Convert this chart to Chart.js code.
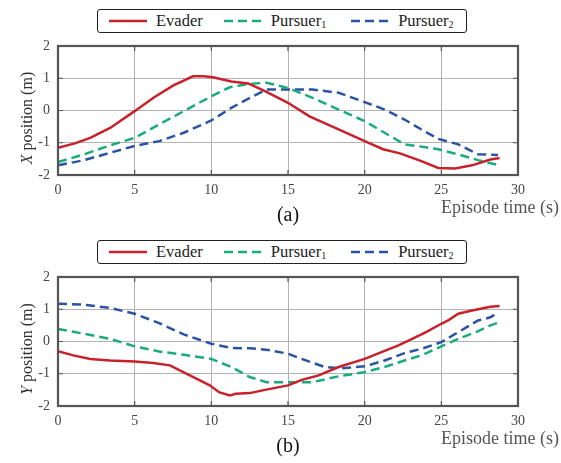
<!DOCTYPE html>
<html>
<head>
<meta charset="utf-8">
<script src="https://cdn.jsdelivr.net/npm/chart.js@4.4.1/dist/chart.umd.min.js"></script>
<style>
  body { margin: 0; background: #fff; }
  .panel { position: absolute; left: 0; width: 561px; height: 231px; }
  .legend {
    position: absolute; left: 97px; top: 9px; width: 370px; height: 24px; box-sizing: border-box;
    border: 1.6px solid #222; border-radius: 3px; background: #fff;
    display: flex; align-items: center; padding-left: 11px;
    font-family: "Liberation Serif", "Times New Roman", serif; font-size: 16.5px; color: #222;
  }
  .legend svg { margin-right: 9px; }
  .legend span.s0 { margin-right: 21px; }
  .legend span.s1 { margin-right: 25px; }
  .legend sub { font-size: 10px; vertical-align: -2px; }
</style>
</head>
<body>
<div class="panel" style="top:0"><canvas id="chartX"></canvas><div class="legend" id="legX"></div></div>
<div class="panel" style="top:231px"><canvas id="chartY"></canvas><div class="legend" id="legY"></div></div>
<script>
// series names and colours
var names = ['Evader', 'Pursuer<sub>1</sub>', 'Pursuer<sub>2</sub>'];
var colors = ['#c9212b', '#1aab7c', '#2a53a7'];

var xTicks = [0, 5, 10, 15, 20, 25, 30];
var yTicks = [-2, -1, 0, 1, 2];

// (a) X position
var xEvaderT = [0, 1.1, 2.1, 3.4, 5.0, 6.2, 7.5, 8.8, 9.5, 10.1, 11.3, 12.4, 13.5, 15.0, 16.4, 17.9, 20.0, 21.2, 22.3, 23.7, 24.8, 25.9, 27.0, 28.2, 28.8];
var xEvaderV = [-1.16, -1.02, -0.85, -0.54, -0.02, 0.39, 0.77, 1.06, 1.06, 1.03, 0.90, 0.84, 0.60, 0.24, -0.18, -0.50, -0.95, -1.20, -1.33, -1.57, -1.78, -1.80, -1.70, -1.52, -1.47];
var xP1T = [0, 1.7, 3.4, 5.0, 6.6, 8.2, 10.0, 11.2, 12.5, 13.6, 15.0, 16.6, 18.3, 20.0, 21.3, 22.6, 23.7, 24.8, 26.1, 27.4, 28.6];
var xP1V = [-1.60, -1.36, -1.08, -0.85, -0.43, -0.02, 0.44, 0.72, 0.83, 0.86, 0.70, 0.39, 0.03, -0.33, -0.69, -1.05, -1.12, -1.20, -1.36, -1.54, -1.68];
var xP2T = [0, 1.7, 3.4, 5.0, 6.6, 8.2, 10.0, 11.3, 12.7, 13.6, 15.0, 16.6, 18.3, 20.0, 21.3, 22.6, 23.7, 24.8, 26.1, 27.4, 28.7];
var xP2V = [-1.70, -1.54, -1.31, -1.10, -0.95, -0.69, -0.31, 0.08, 0.44, 0.65, 0.65, 0.65, 0.55, 0.26, 0.03, -0.28, -0.59, -0.88, -1.05, -1.36, -1.38];

// (b) Y position
var yEvaderT = [0, 1.0, 2.1, 3.4, 5.0, 6.2, 7.3, 8.6, 9.9, 10.5, 11.2, 11.6, 12.5, 13.5, 15.0, 15.9, 17.0, 18.3, 20.0, 21.1, 22.2, 23.1, 24.0, 25.0, 25.5, 26.1, 27.0, 28.2, 28.8];
var yEvaderV = [-0.30, -0.43, -0.54, -0.59, -0.62, -0.67, -0.74, -1.05, -1.36, -1.57, -1.67, -1.62, -1.60, -1.50, -1.36, -1.19, -1.05, -0.79, -0.54, -0.33, -0.12, 0.08, 0.29, 0.55, 0.67, 0.86, 0.96, 1.08, 1.10];
var yP1T = [0, 1.7, 3.4, 5.0, 6.6, 8.2, 10.0, 11.3, 12.5, 13.6, 15.0, 16.6, 18.3, 20.0, 21.3, 22.6, 23.7, 25.0, 26.1, 27.4, 28.2, 28.7];
var yP1V = [0.39, 0.24, 0.08, -0.15, -0.31, -0.41, -0.54, -0.79, -1.10, -1.26, -1.26, -1.26, -1.08, -0.95, -0.79, -0.59, -0.43, -0.15, 0.08, 0.32, 0.50, 0.58];
var yP2T = [0, 1.7, 3.4, 5.0, 6.6, 8.2, 10.0, 11.3, 12.5, 13.7, 15.0, 16.3, 17.4, 18.5, 20.0, 21.3, 22.6, 23.7, 25.0, 26.1, 27.4, 28.2, 28.7];
var yP2V = [1.17, 1.14, 1.04, 0.86, 0.57, 0.22, -0.07, -0.20, -0.21, -0.26, -0.38, -0.61, -0.79, -0.83, -0.77, -0.59, -0.36, -0.23, -0.02, 0.29, 0.65, 0.75, 0.90];

var serif = '"Liberation Serif", "Times New Roman", serif';

function pts(t, v) {
  return t.map(function (x, i) { return {x: x, y: v[i]}; });
}

// frame, inward ticks and the axis texts (italic X / Y in the y label)
var frame = {
  id: 'frame',
  afterDraw: function (chart, args, opts) {
    var ctx = chart.ctx, a = chart.chartArea, sx = chart.scales.x, sy = chart.scales.y;
    ctx.save();
    ctx.strokeStyle = '#555';
    ctx.lineWidth = 1.2;
    ctx.beginPath();
    xTicks.forEach(function (v) {
      var p = sx.getPixelForValue(v);
      ctx.moveTo(p, a.top); ctx.lineTo(p, a.top + 5);
      ctx.moveTo(p, a.bottom); ctx.lineTo(p, a.bottom - 5);
    });
    yTicks.forEach(function (v) {
      var p = sy.getPixelForValue(v);
      ctx.moveTo(a.left, p); ctx.lineTo(a.left + 5, p);
      ctx.moveTo(a.right, p); ctx.lineTo(a.right - 5, p);
    });
    ctx.stroke();
    ctx.lineWidth = 2.2;
    ctx.strokeRect(a.left, a.top, a.right - a.left, a.bottom - a.top);

    ctx.fillStyle = '#555';
    ctx.font = '18px ' + serif;
    ctx.textAlign = 'right';
    ctx.textBaseline = 'alphabetic';
    ctx.fillText('Episode time (s)', 559, 213);

    ctx.fillStyle = '#111';
    ctx.font = '20px ' + serif;
    ctx.textAlign = 'center';
    ctx.fillText(opts.panel, (a.left + a.right) / 2, 221);

    ctx.translate(28, 118);
    ctx.rotate(-Math.PI / 2);
    ctx.fillStyle = '#333';
    ctx.textBaseline = 'middle';
    ctx.textAlign = 'left';
    ctx.font = 'italic 16px ' + serif;
    var w1 = ctx.measureText(opts.letter).width;
    ctx.font = '16px ' + serif;
    var rest = ' position (m)';
    var w2 = ctx.measureText(rest).width;
    var x0 = -(w1 + w2) / 2;
    ctx.font = 'italic 16px ' + serif;
    ctx.fillText(opts.letter, x0, 0);
    ctx.font = '16px ' + serif;
    ctx.fillText(rest, x0 + w1, 0);
    ctx.restore();
  }
};

function makeChart(id, legId, series, letter, panel) {
  var leg = document.getElementById(legId);
  leg.innerHTML = names.map(function (n, i) {
    var dash = i === 0 ? '' : ' stroke-dasharray="9 5"';
    return '<svg width="38" height="4"><line x1="0" y1="2" x2="38" y2="2" stroke="' + colors[i] +
      '" stroke-width="2.6"' + dash + '/></svg><span class="s' + i + '">' + n + '</span>';
  }).join('');

  return new Chart(document.getElementById(id), {
    type: 'line',
    data: {
      datasets: series.map(function (s, i) {
        return {
          label: names[i],
          data: pts(s[0], s[1]),
          borderColor: colors[i],
          borderWidth: 2.5,
          borderDash: i === 0 ? [] : [9, 5],
          pointRadius: 0,
          tension: 0,
          fill: false
        };
      })
    },
    options: {
      responsive: true,
      maintainAspectRatio: false,
      animation: false,
      layout: {padding: {top: 46, right: 43, bottom: 0, left: 0}},
      plugins: {
        legend: {display: false},
        tooltip: {enabled: false},
        frame: {letter: letter, panel: panel}
      },
      scales: {
        x: {
          type: 'linear', min: 0, max: 30,
          afterFit: function (s) { s.height = 56; },
          afterBuildTicks: function (s) { s.ticks = xTicks.map(function (v) { return {value: v}; }); },
          grid: {color: '#b3b3b3', lineWidth: 1, drawTicks: false},
          border: {display: false},
          ticks: {padding: 7, color: '#444', font: {family: serif, size: 14}, maxRotation: 0}
        },
        y: {
          min: -2, max: 2,
          afterFit: function (s) { s.width = 58; },
          afterBuildTicks: function (s) { s.ticks = yTicks.map(function (v) { return {value: v}; }); },
          grid: {color: '#b3b3b3', lineWidth: 1, drawTicks: false},
          border: {display: false},
          ticks: {padding: 8, color: '#444', font: {family: serif, size: 14}}
        }
      }
    },
    plugins: [frame]
  });
}

makeChart('chartX', 'legX', [[xEvaderT, xEvaderV], [xP1T, xP1V], [xP2T, xP2V]], 'X', '(a)');
makeChart('chartY', 'legY', [[yEvaderT, yEvaderV], [yP1T, yP1V], [yP2T, yP2V]], 'Y', '(b)');
</script>
</body>
</html>
